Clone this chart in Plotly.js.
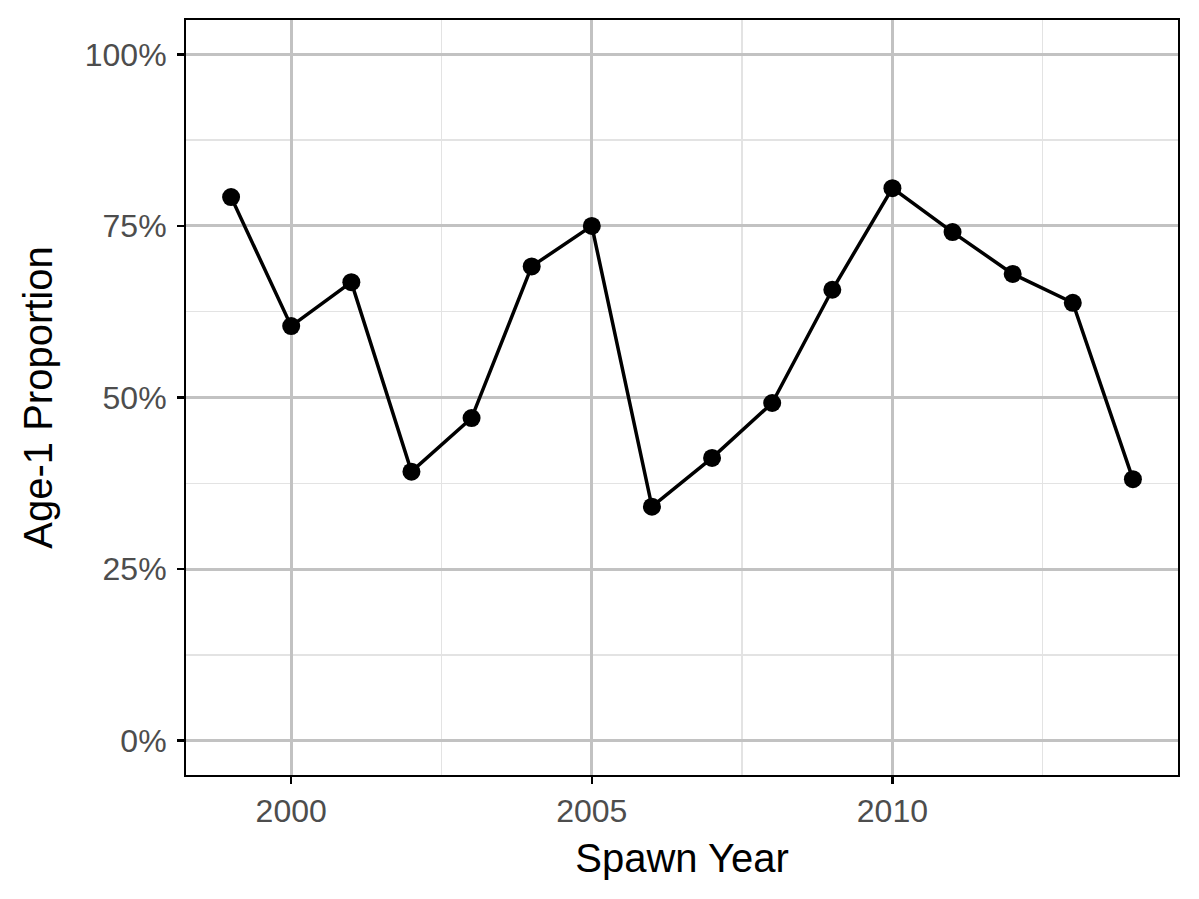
<!DOCTYPE html>
<html>
<head>
<meta charset="utf-8">
<script src="https://cdn.plot.ly/plotly-3.0.1.min.js"></script>
<style>html,body{margin:0;padding:0;background:#fff;}#chart{width:1199px;height:899px;}</style>
</head>
<body>
<div id="chart"></div>
<script>
const years = [1999, 2000, 2001, 2002, 2003, 2004, 2005, 2006, 2007, 2008, 2009, 2010, 2011, 2012, 2013, 2014];
const age1Proportion = [0.792, 0.604, 0.668, 0.392, 0.470, 0.691, 0.750, 0.341, 0.412, 0.492, 0.657, 0.805, 0.741, 0.680, 0.638, 0.381];
const xTickVals = [2000, 2005, 2010];
const yTickVals = [0, 0.25, 0.5, 0.75, 1.0];
const yTickText = ['0%', '25%', '50%', '75%', '100%'];

const trace = {
  x: years,
  y: age1Proportion,
  type: 'scatter',
  mode: 'lines+markers',
  line: {color: '#000000', width: 3.5},
  marker: {color: '#000000', size: 18},
  hoverinfo: 'x+y'
};

const tickFont = {family: 'Liberation Sans, Arial, sans-serif', size: 32, color: '#4d4d4d'};
const titleFont = {family: 'Liberation Sans, Arial, sans-serif', size: 40, color: '#000000'};

const layout = {
  width: 1199,
  height: 899,
  margin: {l: 186, r: 21, t: 20, b: 124},
  paper_bgcolor: '#ffffff',
  plot_bgcolor: '#ffffff',
  showlegend: false,
  xaxis: {
    range: [1998.25, 2014.75],
    tickmode: 'array',
    tickvals: xTickVals,
    ticktext: xTickVals.map(String),
    tickfont: tickFont,
    ticks: 'outside',
    ticklen: 7,
    tickwidth: 2.5,
    tickcolor: '#000000',
    showgrid: true,
    gridcolor: '#c2c2c2',
    gridwidth: 3,
    minor: {tickmode: 'array', tickvals: [2002.5, 2007.5, 2012.5], showgrid: true, gridcolor: '#e3e3e3', gridwidth: 1.5, ticks: ''},
    showline: true,
    linecolor: '#000000',
    linewidth: 2,
    mirror: true,
    zeroline: false,
    title: {text: 'Spawn Year', font: titleFont, standoff: 16}
  },
  yaxis: {
    range: [-0.05, 1.05],
    tickmode: 'array',
    tickvals: yTickVals,
    ticktext: yTickText,
    tickfont: tickFont,
    ticks: 'outside',
    ticklen: 7,
    tickwidth: 2.5,
    tickcolor: '#000000',
    ticklabelstandoff: 4,
    showgrid: true,
    gridcolor: '#c2c2c2',
    gridwidth: 3,
    minor: {tickmode: 'array', tickvals: [0.125, 0.375, 0.625, 0.875], showgrid: true, gridcolor: '#e3e3e3', gridwidth: 1.5, ticks: ''},
    showline: true,
    linecolor: '#000000',
    linewidth: 2,
    mirror: true,
    zeroline: false,
    title: {text: 'Age-1 Proportion', font: titleFont, standoff: 20}
  }
};

Plotly.newPlot('chart', [trace], layout, {displayModeBar: false, staticPlot: true});
</script>
</body>
</html>
